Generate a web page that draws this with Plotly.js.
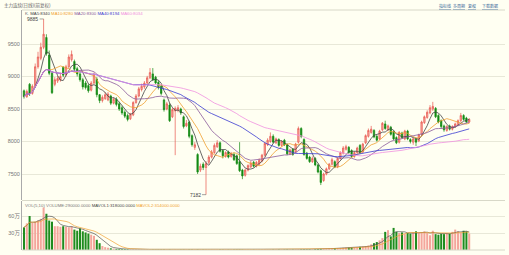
<!DOCTYPE html>
<html><head><meta charset="utf-8">
<script src="https://cdn.plot.ly/plotly-3.0.1.min.js"></script>
<style>html,body{margin:0;padding:0;background:#fffff2;}#c{width:509px;height:255px;}</style>
</head><body><div id="c"></div>
<script>
const opens=[8780,8690,8880,8740,8850,9150,9280,9450,9600,9330,
9050,8880,8930,8950,9140,9030,9150,9260,9230,9120,
9040,8950,8900,8860,8790,8900,8960,8720,8630,8660,
8640,8700,8590,8650,8580,8520,8450,8400,8350,8410,
8600,8700,8800,8840,8900,8980,9040,8990,8910,8850,
8640,8500,8560,8380,8470,8480,8500,8380,8240,8300,
8090,7910,7800,7560,7650,7600,7680,7760,7830,7920,
7980,7860,7770,7840,7770,7800,7780,7690,7560,7480,
7560,7610,7680,7620,7650,7700,7790,7950,8000,8080,
7980,8030,7940,8020,7950,7810,7880,7840,7990,8200,
8030,7820,7760,7690,7740,7640,7550,7400,7500,7580,
7650,7690,7610,7740,7820,7880,7910,7860,7770,7830,
7940,7840,7980,8080,8140,8170,8080,8040,8180,8270,
8180,8220,8150,8060,7990,8130,8040,8160,8030,7990,
8040,8010,8110,8290,8370,8440,8500,8510,8400,8320,
8240,8170,8240,8190,8230,8260,8320,8400,8360,8300];
const closes=[8690,8770,8740,8850,9150,9300,9450,9650,9350,9050,
8750,8950,8970,9000,9020,9150,9300,9340,9110,9040,
8950,8840,8830,8780,8900,9020,8720,8630,8680,8720,
8730,8590,8650,8570,8500,8440,8390,8340,8420,8600,
8700,8810,8850,8900,8980,9060,8950,8900,8830,8740,
8490,8580,8320,8490,8510,8520,8440,8230,8280,8080,
7950,7950,7530,7620,7600,7660,7760,7840,7940,7980,
7850,7780,7830,7760,7810,7720,7660,7550,7470,7560,
7630,7670,7620,7680,7710,7790,7970,8020,8080,7990,
8040,7940,8000,7950,7810,7870,7800,7960,8200,8080,
7800,7740,7690,7740,7640,7530,7370,7500,7580,7650,
7720,7610,7740,7830,7900,7920,7830,7770,7830,7900,
7830,7960,8090,8170,8190,8070,8020,8160,8280,8200,
8240,8110,8040,7980,8140,8060,8160,8040,8000,8040,
7990,8100,8300,8380,8450,8520,8540,8380,8300,8230,
8180,8230,8190,8230,8270,8320,8400,8340,8300,8340];
const highs=[8800,8800,8900,8880,9200,9380,9520,9885,9650,9400,
9080,8990,9010,9060,9160,9180,9340,9400,9260,9150,
9080,8980,8930,8890,8930,9060,8990,8730,8710,8760,
8760,8720,8680,8680,8610,8550,8480,8430,8440,8620,
8730,8840,8890,8930,9010,9130,9130,9010,8940,8870,
8660,8610,8590,8520,8540,8560,8520,8400,8330,8320,
8110,7990,7820,7660,7680,7700,7790,7870,7970,8020,
8000,7880,7850,7860,7840,7830,7800,7990,7580,7580,
7650,7700,7700,7700,7740,7810,7990,8050,8140,8110,
8060,8050,8020,8040,7970,7890,7900,7980,8230,8220,
8050,7840,7780,7770,7760,7660,7570,7520,7600,7670,
7750,7710,7760,7850,7930,7950,7930,7880,7850,7920,
7960,7980,8110,8200,8240,8190,8100,8180,8300,8320,
8260,8240,8170,8080,8160,8150,8180,8180,8050,8060,
8060,8120,8320,8400,8480,8560,8610,8530,8420,8340,
8260,8250,8260,8250,8290,8340,8440,8420,8380,8360];
const lows=[8660,8670,8700,8720,8830,9120,9250,9420,9320,9020,
8730,8850,8900,8920,8990,9000,9120,9230,9080,9000,
8920,8800,8800,8750,8770,8880,8680,8590,8600,8640,
8620,8560,8570,8540,8470,8410,8360,8310,8330,8390,
8580,8680,8770,8810,8880,8960,8930,8880,8800,8710,
8460,8480,8300,8360,7790,8450,8410,8200,8220,8050,
7920,7870,7500,7530,7560,7182,7650,7740,7810,7900,
7830,7740,7750,7740,7750,7700,7640,7530,7420,7460,
7540,7590,7600,7600,7630,7680,7770,7930,7980,7970,
7960,7920,7920,7930,7790,7790,7780,7820,7970,8050,
7780,7720,7670,7670,7620,7510,7330,7380,7480,7560,
7630,7590,7590,7720,7800,7860,7810,7750,7750,7810,
7810,7820,7960,8060,8120,8050,8000,8020,8160,8180,
8160,8090,8020,7960,7970,8040,8020,8020,7970,7950,
7930,7990,8090,8270,8350,8420,8470,8360,8280,8200,
8150,8150,8170,8170,8210,8240,8300,8320,8280,8280];
// volume in 万 (10,000) units
const volumes=[40,47,60,48,50,52,55,75,64,52,
50,42,42,41,42,41,40,42,36,34,
38,33,31,29,27,25,18,12,7,5,
4,3,2.5,2,1.8,1.5,1.5,1.3,1.2,1.2,
1.1,1.2,1.0,1.1,1.2,1.0,1.1,0.9,1.0,1.1,
1.2,1.0,1.1,0.9,1.3,1.0,0.9,1.1,1.0,1.2,
1.1,1.0,1.4,1.2,1.0,1.3,1.1,1.0,0.9,1.0,
1.1,1.0,0.9,1.0,1.1,1.0,1.2,1.3,1.1,1.0,
1.0,1.1,0.9,1.0,1.1,1.2,1.4,1.2,1.3,1.1,
1.0,1.2,1.1,1.0,1.2,1.1,1.0,1.3,1.6,1.4,
1.5,1.3,1.4,1.5,1.6,1.8,2.0,2.2,2.4,2.8,
3.0,3.2,3.5,3.6,3.8,4.0,4.2,4.3,4.6,5.0,
5.5,6,7,8,10,12,14,17,21,32,
35,24,39,32,30,31,28,30,29,31,
33,30,31,33,30,26,34,28,27,29,
28,30,29,32,36,33,30,34,33,29];
const priceTicks=[7500,8000,8500,9000,9500];
const volTicks=[30,60];
const volTickText=["30万","60万"];
const maPeriods=[5,10,20,40,60];
const maColors=["#444444","#f0a030","#8a5a9a","#3a3ad0","#f090e0"];

const N=closes.length;
const xs=closes.map((_,i)=>i);
function ma(arr,p){return arr.map((_,i)=>{const s=Math.max(0,i-p+1);let t=0;for(let k=s;k<=i;k++)t+=arr[k];return t/(i-s+1);});}

const W=509,H=255;
const px=v=>v/W, py=v=>1-v/H;
const d=2.8;
const xr=[-(24-22)/d,(N-1)+(505-(24+(N-1)*d))/d];

const traces=[];
traces.push({type:'candlestick',x:xs,open:opens,high:highs,low:lows,close:closes,xaxis:'x',yaxis:'y',
 increasing:{line:{color:'#e8584f',width:0.7},fillcolor:'#f7aaa2'},
 decreasing:{line:{color:'#128a12',width:0.7},fillcolor:'#128a12'},
 whiskerwidth:0,showlegend:false,hoverinfo:'skip'});
const maVals=[];
maPeriods.forEach((p,j)=>{const m=ma(closes,p);maVals.push(m);
 traces.push({type:'scatter',mode:'lines',x:xs,y:m,xaxis:'x',yaxis:'y',line:{color:maColors[j],width:0.8},showlegend:false,hoverinfo:'skip'});});
const volColors=closes.map((c,i)=>c>=opens[i]?'#f4a69c':'#1f8c1f');
traces.push({type:'bar',x:xs,y:volumes,xaxis:'x2',yaxis:'y2',marker:{color:volColors,line:{width:0}},width:0.72,showlegend:false,hoverinfo:'skip'});
const mv1=ma(volumes,5),mv2=ma(volumes,10);
traces.push({type:'scatter',mode:'lines',x:xs,y:mv1,xaxis:'x2',yaxis:'y2',line:{color:'#555555',width:0.7},showlegend:false,hoverinfo:'skip'});
traces.push({type:'scatter',mode:'lines',x:xs,y:mv2,xaxis:'x2',yaxis:'y2',line:{color:'#f0a030',width:0.7},showlegend:false,hoverinfo:'skip'});

const last=N-1;
const f0=v=>Math.round(v);
const hdr='<span style="color:#666">K. </span>'+maPeriods.map((p,j)=>'<span style="color:'+maColors[j]+'">MA'+p+':'+f0(maVals[j][last])+'</span>').join(' ');
const vhdr='<span style="color:#777">VOL(5,10) VOLUME:'+(volumes[last]*10000).toFixed(4)+'</span> <span style="color:#444">MAVOL1:'+(mv1[last]*10000).toFixed(4)+'</span> <span style="color:#f0a030">MAVOL2:'+(mv2[last]*10000).toFixed(4)+'</span>';
const font='Liberation Sans, Noto Sans CJK SC, sans-serif';
const layout={width:W,height:H,margin:{l:0,r:0,t:0,b:0},paper_bgcolor:'#fffff2',plot_bgcolor:'#fffff2',
 font:{family:font,size:5,color:'#666'},showlegend:false,bargap:0.3,
 xaxis:{domain:[px(22),px(505)],range:xr,showticklabels:false,showgrid:false,zeroline:false,rangeslider:{visible:false},fixedrange:true,anchor:'y'},
 xaxis2:{domain:[px(22),px(505)],range:xr,matches:'x',showticklabels:false,showgrid:false,zeroline:false,anchor:'y2'},
 yaxis:{domain:[py(200),py(10)],range:[7100,10023],tickvals:priceTicks,ticktext:priceTicks.map(String),gridcolor:'#e8e8d8',gridwidth:1,zeroline:false,showline:true,linecolor:'#aaa',linewidth:1,ticks:'',tickfont:{size:5.5,color:'#777'}},
 yaxis2:{domain:[py(250),py(201)],range:[0,86.5],tickvals:volTicks,ticktext:volTickText,gridcolor:'#e8e8d8',zeroline:false,showline:true,linecolor:'#aaa',linewidth:1,ticks:'',tickfont:{size:5.5,color:'#777'}},
 shapes:[
  {type:'line',xref:'paper',yref:'paper',x0:px(22),x1:px(505),y0:py(10),y1:py(10),line:{color:'#d8d8c8',width:1}},
  {type:'line',xref:'paper',yref:'paper',x0:px(22),x1:px(505),y0:py(200.5),y1:py(200.5),line:{color:'#d8d8c8',width:1}},
  {type:'line',xref:'paper',yref:'paper',x0:px(22),x1:px(505),y0:py(250),y1:py(250),line:{color:'#d8d8c8',width:1}}
 ],
 annotations:[
  {xref:'paper',yref:'paper',x:px(2),y:py(5),xanchor:'left',yanchor:'middle',showarrow:false,text:'主力连续(日线)(前复权)',font:{size:4.5,color:'#666'}},
  {xref:'paper',yref:'paper',x:px(437),y:py(6),xanchor:'left',yanchor:'middle',showarrow:false,text:'<u>指标线</u>',font:{size:4,color:'#3a6a9a'}},
  {xref:'paper',yref:'paper',x:px(451),y:py(6),xanchor:'left',yanchor:'middle',showarrow:false,text:'<u>多周期</u>',font:{size:4,color:'#3a6a9a'}},
  {xref:'paper',yref:'paper',x:px(466),y:py(6),xanchor:'left',yanchor:'middle',showarrow:false,text:'<u>复权</u>',font:{size:4,color:'#3a6a9a'}},
  {xref:'paper',yref:'paper',x:px(480),y:py(6),xanchor:'left',yanchor:'middle',showarrow:false,text:'<u>下载数据</u>',font:{size:4,color:'#3a6a9a'}},
  {xref:'paper',yref:'paper',x:px(23),y:py(13),xanchor:'left',yanchor:'middle',showarrow:false,text:hdr,font:{size:4.3}},
  {xref:'paper',yref:'paper',x:px(23),y:py(205),xanchor:'left',yanchor:'middle',showarrow:false,text:vhdr,font:{size:4.3}},
  {x:7,y:9885,xref:'x',yref:'y',text:String(9885),showarrow:true,arrowhead:0,arrowwidth:0.6,arrowcolor:'#666',ax:-11,ay:0,font:{size:5,color:'#444'}},
  {x:65,y:7182,xref:'x',yref:'y',text:String(7182),showarrow:true,arrowhead:0,arrowwidth:0.6,arrowcolor:'#666',ax:-11,ay:0,font:{size:5,color:'#444'}}
 ]};
Plotly.newPlot('c',traces,layout,{staticPlot:true,displayModeBar:false});
</script></body></html>
